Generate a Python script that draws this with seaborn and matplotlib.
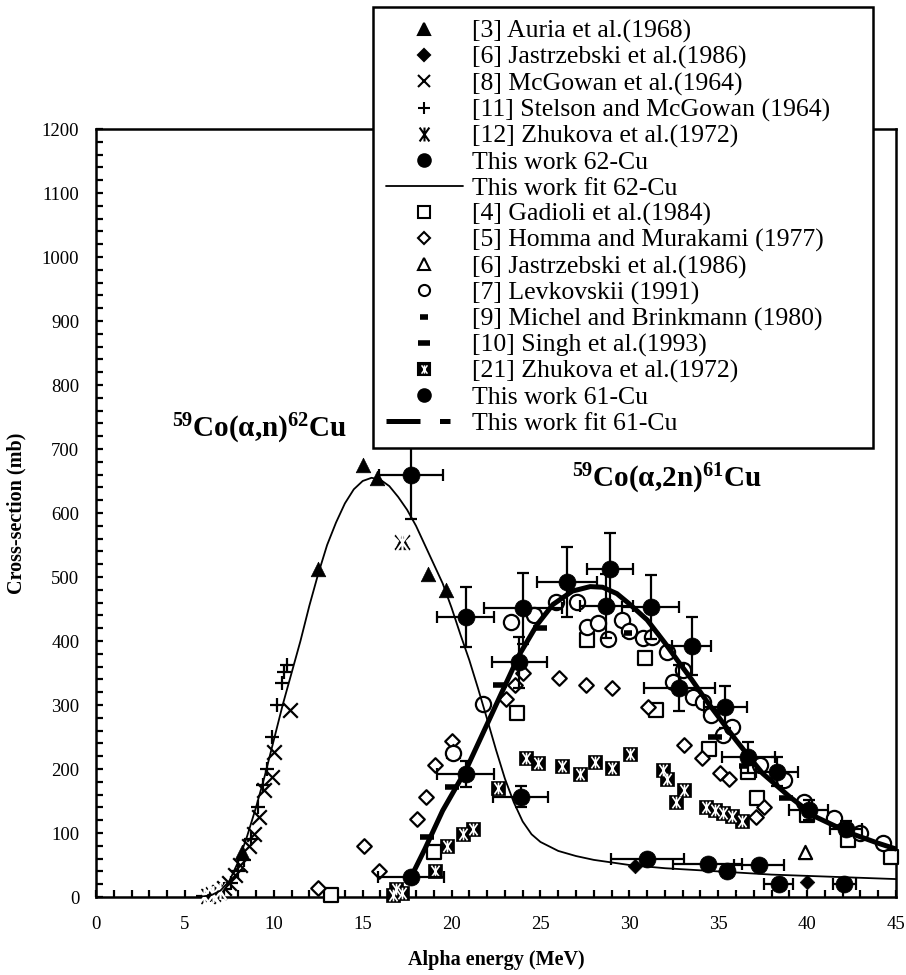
import numpy as np
import pandas as pd
import matplotlib
matplotlib.use("Agg")
import matplotlib.pyplot as plt
from matplotlib.path import Path
from matplotlib.lines import Line2D
from matplotlib.legend_handler import HandlerTuple
from matplotlib.ticker import MultipleLocator
import seaborn as sns

sns.set_theme(style="ticks")
plt.rcParams["font.family"] = ["Liberation Serif", "DejaVu Serif"]
plt.rcParams["mathtext.fontset"] = "custom"
plt.rcParams["mathtext.rm"] = "Liberation Serif"
plt.rcParams["mathtext.bf"] = "Liberation Serif:bold"
plt.rcParams["mathtext.it"] = "Liberation Serif:italic"

# ---------------- 59Co(a,n)62Cu ----------------
auria_E = [8.2, 12.5, 15.0, 15.8, 17.2, 18.7, 19.7]
auria_S = [70, 513, 675, 655, 555, 505, 480]

jastr62_E = [30.3, 35.4, 40.0]
jastr62_S = [48, 40, 23]

mcgowan_E = [6.3, 6.6, 6.9, 7.2, 7.5, 7.8, 8.1, 8.6, 8.9, 9.15, 9.45, 9.9, 10.0, 10.9, 17.2]
mcgowan_S = [2, 4, 8, 14, 22, 35, 50, 79, 99, 125, 167, 188, 227, 292, 555]

stelson_E = [6.0, 6.4, 6.8, 7.2, 7.6, 8.0, 8.3, 8.7, 9.1, 9.4, 9.6, 9.9, 10.2, 10.45, 10.6, 10.75]
stelson_S = [1, 3, 6, 12, 22, 40, 58, 90, 140, 175, 200, 250, 300, 335, 352, 362]

zhuk62_E = [6.1, 6.6, 7.0, 12.4, 14.2, 14.3, 16.45, 17.2, 19.1, 20.7, 23.9, 28.0, 34.5, 36.4]
zhuk62_S = [2, 5, 10, 435, 550, 641, 683, 555, 550, 271, 115, 45, 27, 19]

tw62_E = [17.7, 20.8, 23.9, 31.0, 34.4, 35.5, 37.3, 38.4, 42.1]
tw62_S = [660, 438, 157, 60, 52, 40, 50, 21, 21]
tw62_dE = [1.8, 1.6, 1.55, 2.05, 1.95, 0.0, 1.4, 0.8, 0.65]
tw62_dS = [70, 47, 17, 6, 5, 4, 5, 2, 2]

fit62_E = [5.8, 6.5, 7.0, 7.5, 8.0, 8.5, 9.0, 9.5, 10.0, 10.5, 11.0, 11.5, 12.0, 12.5,
           13.0, 13.5, 14.0, 14.5, 15.0, 15.5, 16.0, 16.5, 17.0, 17.5, 18.0, 18.5,
           19.0, 19.5, 20.0, 20.5, 21.0, 21.5, 22.0, 22.5, 23.0, 23.5, 24.0, 24.5,
           25.0, 26.0, 27.0, 28.0, 29.0, 30.0, 32.0, 35.0, 38.0, 41.0, 45.0]
fit62_S = [0, 3, 10, 25, 55, 95, 140, 190, 245, 300, 350, 400, 455, 505,
           550, 585, 615, 637, 650, 655, 652, 642, 625, 605, 580, 550,
           520, 490, 452, 410, 370, 325, 278, 230, 185, 148, 118, 98,
           86, 72, 64, 58, 54, 50, 45, 40, 35, 32, 28]

# ---------------- 59Co(a,2n)61Cu ----------------
gadioli_E = [13.2, 19.0, 23.7, 27.6, 30.9, 31.5, 34.5, 36.7, 37.2, 40.0, 42.3, 44.7]
gadioli_S = [3, 71, 287, 402, 373, 292, 232, 196, 154, 128, 89, 63]

homma_E = [12.5, 15.05, 15.9, 18.04, 18.57, 19.07, 20.0, 23.06, 23.57, 24.04, 26.06,
           27.54, 29.05, 31.06, 33.1, 34.06, 35.08, 35.6, 37.1, 37.56]
homma_S = [14, 80, 41, 122, 157, 206, 243, 310, 331, 350, 342,
           331, 326, 297, 237, 217, 193, 185, 125, 141]

jastr61_E = [20.1, 30.0, 39.9]
jastr61_S = [228, 418, 71]

levk_E = [20.1, 21.75, 23.35, 24.63, 25.9, 27.07, 27.6, 28.25, 28.8, 29.56, 30.0, 30.78,
          31.3, 32.1, 32.46, 33.0, 33.6, 34.15, 34.6, 35.27, 35.8, 37.33, 38.7, 39.8,
          41.5, 43.0, 44.26]
levk_S = [225, 302, 430, 441, 461, 461, 422, 428, 403, 433, 415, 404,
          407, 383, 336, 355, 313, 305, 284, 253, 266, 206, 183, 149,
          123, 100, 84]

michel_E = [29.9, 36.4]
michel_S = [412, 205]

singh_E = [18.6, 20.0, 22.7, 25.0, 34.8, 38.8]
singh_S = [93, 172, 331, 421, 250, 154]

zhuk61_E = [16.7, 16.9, 17.2, 19.07, 19.73, 20.67, 21.2, 22.6, 24.2, 24.87, 26.2, 27.2,
            28.06, 29.05, 30.05, 31.9, 32.1, 32.65, 33.1, 34.34, 34.8, 35.27, 35.8, 36.36]
zhuk61_S = [3, 12, 6, 40, 79, 99, 107, 170, 217, 209, 205, 192,
            211, 201, 224, 198, 184, 149, 167, 141, 136, 131, 126, 118]

tw61_E = [17.7, 20.8, 23.8, 24.0, 26.5, 28.9, 28.7, 31.2, 33.5, 32.8, 35.4, 36.7, 38.3, 40.1, 42.2]
tw61_S = [32, 192, 367, 451, 492, 512, 455, 453, 392, 326, 297, 218, 196, 136, 107]
tw61_dE = [1.85, 1.6, 1.55, 2.2, 1.7, 1.3, 1.5, 1.6, 1.1, 2.0, 1.2, 1.5, 1.2, 1.1, 0.9]
tw61_dS = [4, 20, 40, 55, 55, 57, 50, 50, 45, 36, 33, 24, 22, 15, 12]

fit61_E = [17.7, 18.5, 19.5, 20.8, 22.0, 23.0, 23.8, 24.8, 25.7, 26.8, 27.8, 28.5, 29.3,
           30.0, 31.0, 32.0, 32.7, 33.5, 34.3, 35.0, 36.0, 37.0, 37.5, 39.0, 40.5, 42.4,
           44.0, 45.0]
fit61_S = [30, 75, 135, 198, 270, 330, 378, 425, 457, 478, 485, 484, 474,
           458, 433, 397, 370, 340, 308, 282, 245, 210, 193, 157, 125, 100,
           84, 75]

legend_labels = ["[3] Auria et al.(1968)", "[6] Jastrzebski et al.(1986)",
                 "[8] McGowan et al.(1964)", "[11] Stelson and McGowan (1964)",
                 "[12] Zhukova et al.(1972)", "This work 62-Cu", "This work fit 62-Cu",
                 "[4] Gadioli et al.(1984)", "[5] Homma and Murakami (1977)",
                 "[6] Jastrzebski et al.(1986)", "[7] Levkovskii (1991)",
                 "[9] Michel and Brinkmann (1980)", "[10] Singh et al.(1993)",
                 "[21] Zhukova et al.(1972)", "This work 61-Cu", "This work fit 61-Cu"]

# asterisk: vertical bar crossed by two steep diagonals
STAR = Path([(0, -1), (0, 1), (-0.7, -1), (0.7, 1), (-0.7, 1), (0.7, -1)],
            [Path.MOVETO, Path.LINETO, Path.MOVETO, Path.LINETO, Path.MOVETO, Path.LINETO])

fig = plt.figure(figsize=(9.06, 9.75), dpi=100)
ax = fig.add_axes([96 / 906, 1 - 897 / 975, 800 / 906, 768 / 975])
ax.set_facecolor("white")


def filled(E, S, marker, size, z=3):
    sns.scatterplot(x=E, y=S, marker=marker, s=size, color="black", edgecolor="black",
                    linewidth=0.5, ax=ax, zorder=z, clip_on=False, legend=False)


def hollow(E, S, marker, size, lw=1.6, z=3):
    ax.scatter(E, S, marker=marker, s=size, facecolors="white", edgecolors="black",
               linewidths=lw, zorder=z, clip_on=False)


def lines(E, S, marker, size, lw=1.6, z=3):
    sns.scatterplot(x=E, y=S, marker=marker, s=size, color="black",
                    linewidth=lw, ax=ax, zorder=z, clip_on=False, legend=False)


# fitted excitation functions
sns.lineplot(x=fit62_E, y=fit62_S, color="black", lw=1.3, ax=ax, sort=False,
             estimator=None, zorder=4)
sns.lineplot(x=fit61_E, y=fit61_S, color="black", lw=3.6, ax=ax, sort=False,
             estimator=None, zorder=4)

# literature values, 62Cu
filled(auria_E, auria_S, "^", 110)
filled(jastr62_E, jastr62_S, "D", 55)
lines(mcgowan_E, mcgowan_S, "x", 110)
lines(stelson_E, stelson_S, "+", 110)
lines(zhuk62_E, zhuk62_S, STAR, 150, lw=1.6)

# literature values, 61Cu
hollow(gadioli_E, gadioli_S, "s", 95)
hollow(homma_E, homma_S, "D", 55)
hollow(jastr61_E, jastr61_S, "^", 90)
hollow(levk_E, levk_S, "o", 120)
lines(michel_E, michel_S, "_", 40, lw=4)
lines(singh_E, singh_S, "_", 110, lw=4)
filled(zhuk61_E, zhuk61_S, "s", 110)
sns.scatterplot(x=zhuk61_E, y=zhuk61_S, marker=STAR, s=70, color="white",
                linewidth=1.2, ax=ax, zorder=3.1, clip_on=False, legend=False)

# this work with uncertainties
for E, S, dE, dS in [(tw62_E, tw62_S, tw62_dE, tw62_dS), (tw61_E, tw61_S, tw61_dE, tw61_dS)]:
    ax.errorbar(E, S, xerr=dE, yerr=dS, fmt="none", ecolor="black", elinewidth=1.6,
                capsize=4.5, capthick=1.6, zorder=5)
    filled(E, S, "o", 150, z=6)

ax.set_xlim(0, 45)
ax.set_ylim(0, 1200)
ax.xaxis.set_major_locator(MultipleLocator(5))
ax.xaxis.set_minor_locator(MultipleLocator(1))
ax.yaxis.set_major_locator(MultipleLocator(100))
ax.yaxis.set_minor_locator(MultipleLocator(20))
ax.tick_params(which="both", direction="in", length=5, width=1.6, color="black",
               top=False, right=False)
ax.tick_params(axis="x", which="major", labelsize=13.5, pad=14, labelcolor="black")
ax.tick_params(axis="y", which="major", labelsize=13.5, pad=12, labelcolor="black")
for sp in ax.spines.values():
    sp.set_color("black")
    sp.set_linewidth(1.8)
    sp.set_visible(True)
ax.grid(False)

ax.set_xlabel("Alpha energy (MeV)", fontsize=14.5, fontweight="bold", color="black", labelpad=12)
ax.set_ylabel("Cross-section (mb)", fontsize=14.5, fontweight="bold", color="black", labelpad=11)

ax.text(4.28, 719, r"$\mathbf{{}^{59}Co(\alpha{,}n)^{62}Cu}$", fontsize=21,
        ha="left", va="baseline", color="black")
ax.text(26.75, 641, r"$\mathbf{{}^{59}Co(\alpha{,}2n)^{61}Cu}$", fontsize=21,
        ha="left", va="baseline", color="black")

# legend
def mk(marker, ms, face="black", mew=1.5):
    return Line2D([], [], ls="none", marker=marker, ms=ms, mfc=face, mec="black", mew=mew)

handles = [
    mk("^", 8), mk("D", 6), mk("x", 9), mk("+", 9), mk(STAR, 10),
    mk("o", 9), Line2D([], [], color="black", lw=1.3),
    mk("s", 8, "white"), mk("D", 6, "white"), mk("^", 8, "white"), mk("o", 8, "white"),
    mk("_", 6, mew=4), mk("_", 9, mew=4),
    (mk("s", 9), Line2D([], [], ls="none", marker=STAR, ms=6, mec="white", mew=1.1)),
    mk("o", 9),
    Line2D([], [], color="black", lw=3.6, dashes=(6.8, 3.9, 2.1, 3.7)),
]

leg = fig.legend(handles, legend_labels, loc="upper left",
                 bbox_to_anchor=(373 / 906, 1 - 448 / 975, 500 / 906, 441 / 975),
                 bbox_transform=fig.transFigure, mode="expand",
                 prop={"family": "Liberation Serif", "size": 18.5},
                 frameon=True, fancybox=False, shadow=False, framealpha=1,
                 edgecolor="black", borderpad=0.5, labelspacing=0.11,
                 handlelength=3.0, handletextpad=0.35, borderaxespad=0,
                 handler_map={tuple: HandlerTuple(ndivide=1)})
leg.get_frame().set_linewidth(1.8)
for t in leg.get_texts():
    t.set_color("black")

fig.savefig("out.png", dpi=100, facecolor="white")
